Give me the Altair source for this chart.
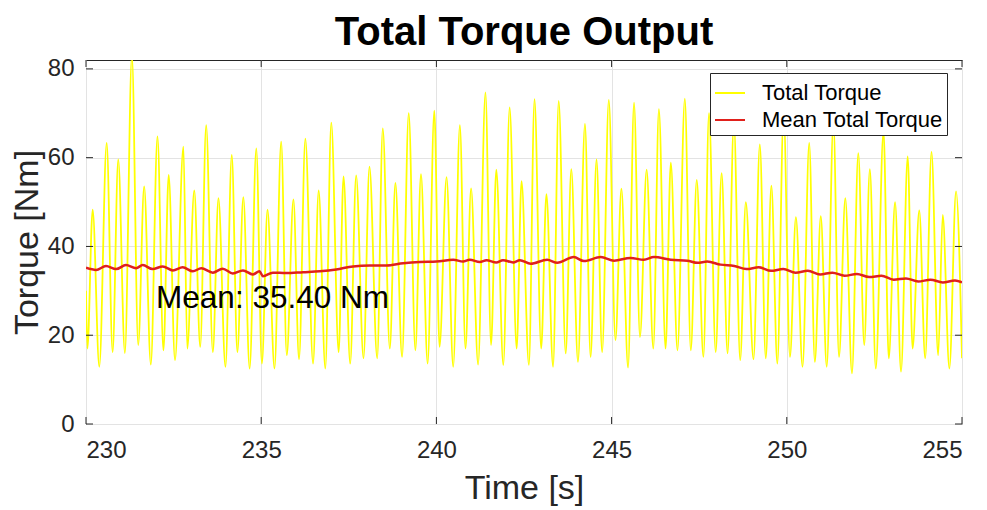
import altair as alt
import pandas as pd

# ---- data ----
torque_t = [230.00, 230.04, 230.19, 230.38, 230.59, 230.76, 230.92, 231.11, 231.31, 231.49,
            231.66, 231.85, 232.04, 232.21, 232.36, 232.54, 232.78, 232.89, 233.09, 233.26,
            233.43, 233.62, 233.78, 233.98, 234.16, 234.32, 234.49, 234.67, 234.86, 235.02,
            235.18, 235.38, 235.57, 235.73, 235.92, 236.08, 236.26, 236.48, 236.64, 236.83,
            237.00, 237.21, 237.35, 237.54, 237.71, 237.92, 238.09, 238.31, 238.47, 238.67,
            238.83, 239.02, 239.21, 239.40, 239.56, 239.75, 239.94, 240.09, 240.29, 240.48,
            240.67, 240.83, 240.99, 241.19, 241.40, 241.56, 241.71, 241.91, 242.09, 242.29,
            242.43, 242.64, 242.80, 242.99, 243.14, 243.33, 243.49, 243.69, 243.85, 244.04,
            244.24, 244.40, 244.57, 244.73, 244.92, 245.11, 245.28, 245.47, 245.64, 245.81,
            246.00, 246.19, 246.35, 246.54, 246.69, 246.88, 247.09, 247.26, 247.43, 247.62,
            247.78, 247.97, 248.14, 248.31, 248.49, 248.67, 248.83, 249.05, 249.23, 249.40,
            249.56, 249.73, 249.91, 250.09, 250.26, 250.45, 250.64, 250.80, 250.97, 251.14,
            251.33, 251.49, 251.67, 251.86, 252.04, 252.21, 252.37, 252.54, 252.76, 252.91,
            253.09, 253.26, 253.45, 253.59, 253.78, 253.95, 254.13, 254.32, 254.45, 254.64,
            254.83, 255.00]
torque_v = [30.0, 17.0, 48.3, 12.9, 63.3, 16.2, 59.6, 16.0, 83.0, 17.8,
            53.5, 13.4, 64.8, 16.6, 56.1, 14.4, 62.5, 17.0, 52.6, 17.4,
            67.3, 16.2, 50.9, 12.9, 60.6, 16.2, 51.1, 12.5, 62.1, 13.6,
            48.3, 12.5, 63.6, 15.5, 50.6, 14.6, 64.3, 13.6, 52.6, 12.5,
            67.9, 16.2, 55.8, 13.6, 56.0, 14.8, 58.0, 14.8, 66.6, 17.0,
            54.3, 15.1, 70.0, 16.6, 56.3, 13.6, 70.6, 17.4, 55.6, 12.9,
            67.3, 17.0, 53.1, 13.4, 74.7, 17.8, 57.3, 13.3, 71.3, 17.0,
            54.7, 13.3, 73.2, 17.0, 51.8, 12.9, 72.8, 15.9, 57.4, 14.0,
            67.6, 15.1, 59.6, 16.2, 73.0, 18.9, 53.0, 12.7, 72.4, 19.6,
            57.3, 17.0, 70.9, 17.0, 58.9, 16.6, 73.3, 16.6, 55.0, 15.1,
            70.0, 16.2, 56.5, 15.9, 68.0, 14.4, 50.0, 14.6, 63.0, 14.8,
            53.7, 13.6, 70.0, 15.1, 46.6, 12.9, 63.3, 14.0, 46.8, 12.9,
            68.0, 15.1, 50.9, 11.4, 61.0, 17.8, 57.4, 12.5, 66.0, 14.8,
            50.0, 11.8, 60.3, 17.0, 48.1, 14.8, 61.3, 15.5, 47.1, 12.5,
            52.4, 14.8]

mean_t = [230.00, 230.29, 230.57, 230.86, 231.14, 231.43, 231.62, 231.90, 232.19, 232.48,
          232.76, 233.05, 233.29, 233.62, 233.90, 234.19, 234.48, 234.76, 234.95, 235.05,
          235.33, 235.71, 236.19, 236.67, 237.14, 237.62, 238.10, 238.57, 239.05, 239.52,
          240.00, 240.48, 240.76, 240.95, 241.24, 241.43, 241.71, 241.90, 242.19, 242.38,
          242.69, 243.16, 243.45, 243.92, 244.21, 244.69, 245.07, 245.54, 245.92, 246.21,
          246.69, 247.16, 247.45, 247.73, 248.11, 248.50, 248.85, 249.20, 249.55, 249.90,
          250.25, 250.60, 250.95, 251.30, 251.65, 252.00, 252.35, 252.70, 253.05, 253.40,
          253.75, 254.10, 254.45, 254.80, 255.00]
mean_v = [35.2, 34.7, 35.6, 34.9, 35.8, 35.1, 35.8, 34.9, 35.5, 34.6,
          35.3, 34.4, 35.1, 34.1, 35.0, 33.9, 34.6, 33.7, 34.4, 33.3,
          34.1, 34.0, 34.2, 34.4, 34.8, 35.5, 35.7, 35.7, 36.2, 36.5,
          36.6, 37.0, 36.6, 37.0, 36.5, 36.9, 36.4, 36.9, 36.4, 36.9,
          36.1, 37.0, 36.3, 37.6, 36.7, 37.6, 36.8, 37.4, 37.0, 37.6,
          37.0, 36.8, 36.3, 36.6, 35.9, 35.6, 34.9, 35.3, 34.5, 34.9,
          34.1, 34.5, 33.7, 34.1, 33.4, 33.8, 33.1, 33.4, 32.5, 32.8,
          32.1, 32.5, 31.9, 32.3, 31.9]

series_names = ["Total Torque", "Mean Total Torque"]
series_colors = ["#ffff00", "#e0201b"]

x_ticks = [230, 235, 240, 245, 250, 255]
y_ticks = [0, 20, 40, 60, 80]

annot_t = [232.0]
annot_v = [28.2]
annot_text = ["Mean: 35.40 Nm"]

FONT = "Liberation Sans"

torque_df = pd.DataFrame({"t": torque_t, "v": torque_v, "series": series_names[0]})
mean_df = pd.DataFrame({"t": mean_t, "v": mean_v, "series": series_names[1]})
annot_df = pd.DataFrame({"t": annot_t, "v": annot_v, "label": annot_text})
xt_df = pd.DataFrame({"t": x_ticks})
yt_df = pd.DataFrame({"v": y_ticks})

x_scale = alt.Scale(domain=[230, 255], nice=False, zero=False)
y_scale = alt.Scale(domain=[0, 82], nice=False)
color_scale = alt.Scale(domain=series_names, range=series_colors)

x_enc = alt.X("t:Q", scale=x_scale,
              axis=alt.Axis(title="Time [s]", values=x_ticks, format="d", grid=True,
                            ticks=False, labelPadding=14, titleY=64, titleBaseline="middle"))
y_enc = alt.Y("v:Q", scale=y_scale,
              axis=alt.Axis(title="Torque [Nm]", values=y_ticks, grid=True,
                            ticks=False, labelPadding=12, titleX=-59, titleY=182,
                            titleBaseline="middle", titleAlign="center"))

color_enc = alt.Color("series:N", scale=color_scale,
                      legend=alt.Legend(title=None, orient="none", legendX=624, legendY=13,
                                        fillColor="white", strokeColor="#262626",
                                        padding=4, symbolType="stroke", symbolSize=900,
                                        symbolStrokeWidth=2, labelFontSize=22, labelFont=FONT,
                                        labelColor="#000000", labelOffset=16, rowPadding=0,
                                        labelLimit=300))

yellow = alt.Chart(torque_df).mark_line(strokeWidth=1.8, interpolate="monotone", clip=True).encode(
    x=x_enc, y=y_enc, color=color_enc)
red = alt.Chart(mean_df).mark_line(strokeWidth=2.5, interpolate="monotone", clip=True).encode(
    x="t:Q", y="v:Q", color=alt.Color("series:N", scale=color_scale))

annot = alt.Chart(annot_df).mark_text(align="left", baseline="middle", fontSize=31.5, font=FONT,
                                      color="black").encode(x="t:Q", y="v:Q", text="label:N")

# inward tick marks (MATLAB style), bottom/top and left/right
tick_len = 7
xb = alt.Chart(xt_df).mark_rule(color="#262626", strokeWidth=1).encode(
    x="t:Q", y=alt.value(364), y2=alt.value(364 - tick_len))
xtp = alt.Chart(xt_df).mark_rule(color="#262626", strokeWidth=1).encode(
    x="t:Q", y=alt.value(0), y2=alt.value(tick_len))
yl = alt.Chart(yt_df).mark_rule(color="#262626", strokeWidth=1).encode(
    y="v:Q", x=alt.value(0), x2=alt.value(tick_len))
yr = alt.Chart(yt_df).mark_rule(color="#262626", strokeWidth=1).encode(
    y="v:Q", x=alt.value(876), x2=alt.value(876 - tick_len))

chart = alt.layer(yellow, red, annot, xb, xtp, yl, yr).properties(
    width=876, height=364,
    background="white",
    title=alt.TitleParams("Total Torque Output", fontSize=40, fontWeight="bold", font=FONT,
                          color="#000000", anchor="middle", offset=4),
    autosize=alt.AutoSizeParams(type="none"),
    padding={"left": 78, "top": 52, "right": 17, "bottom": 86},
).configure_view(stroke="#262626", strokeWidth=1).configure_axis(
    labelFont=FONT, labelFontSize=24, labelColor="#262626", titleFont=FONT, titleFontSize=34,
    titleFontWeight="normal", titleColor="#262626", gridColor="#e3e3e3", gridWidth=1,
    domain=False
)

chart.save("out.html", embed_options={"renderer": "svg", "actions": False})
